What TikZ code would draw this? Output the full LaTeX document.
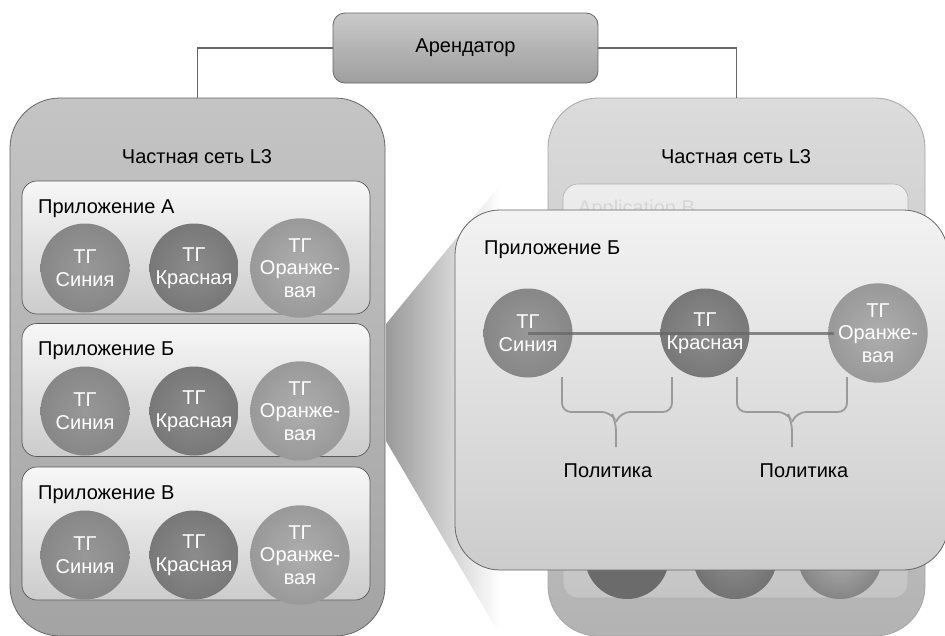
\documentclass[tikz,border=0pt]{standalone}
\usepackage{fontspec}
\setmainfont{Liberation Sans}
\usetikzlibrary{calc}
\definecolor{linegray}{HTML}{666666}
\definecolor{bracegray}{HTML}{9A9A9A}
\definecolor{blueIn}{HTML}{989898}
\definecolor{blueOut}{HTML}{878787}
\definecolor{redIn}{HTML}{8C8C8C}
\definecolor{redOut}{HTML}{787878}
\definecolor{orangeIn}{HTML}{AEAEAE}
\definecolor{orangeOut}{HTML}{999999}
\tikzset{
  every node/.style={font=\fontsize{20}{22.5}\selectfont},
  panel/.style={draw=#1, line width=0.8pt, rounded corners=50pt, inner sep=0pt},
  appbox/.style={draw=gray!70!black, line width=0.7pt, rounded corners=15pt,
    top color=white!97!black, bottom color=white!80!black,
    minimum width=348pt, minimum height=133pt, inner sep=0pt},
  applabel/.style={anchor=west, inner sep=0pt},
  tg/.style={circle, minimum size=89pt, inner sep=0pt, text=white, align=center,
    shading=radial},
  tgblue/.style={tg, inner color=blueIn, outer color=blueOut},
  tgred/.style={tg, inner color=redIn, outer color=redOut},
  tgorange/.style={tg, inner color=orangeIn, outer color=orangeOut},
  link/.style={draw=linegray, line width=1.3pt},
  brace/.style={draw=bracegray, line width=1.8pt, rounded corners=9pt},
}
\begin{document}
\begin{tikzpicture}[x=1pt, y=-1pt]
\useasboundingbox (0,0) rectangle (945,635);
\clip (0,0) rectangle (945,635);

% tenant box
\node[draw=linegray, line width=0.8pt, rounded corners=12pt,
      top color=white!79!black, bottom color=white!62!black,
      minimum width=265pt, minimum height=70pt, inner sep=0pt] (ten) at (465.5,48) {Арендатор};

% the two L3 private networks
\node[panel=gray!80!black, top color=white!77!black, bottom color=white!64!black,
      minimum width=375pt, minimum height=538pt] (lp) at (197.5,367) {};
\node[panel=gray!70, top color=white!86!black, bottom color=white!70!black,
      minimum width=377pt, minimum height=538pt] (rp) at (736.5,367) {};

\draw[link] (ten.west) -| (lp.north);
\draw[link] (ten.east) -| (rp.north);

\node (lpt) at (197,157) {Частная сеть L3};
\node (rpt) at (736,157) {Частная сеть L3};

% applications in the left network
\foreach \n/\y/\t in {a/247.5/Приложение А, b/390/Приложение Б, c/533.5/Приложение В}{
  \node[appbox] (app\n) at (196,\y) {};
  \node[applabel] (lab\n) at (38,\y-39) {\t};
}
\foreach \n/\y in {a/268, b/411, c/555}{
  \node[tgblue]   (\n1) at (85,\y)  {ТГ\\Синия};
  \node[tgred]    (\n2) at (194,\y) {ТГ\\Красная};
  \node[tgorange] (\n3) at (300,\y) {ТГ\\Оранже-\\вая};
}

% application box in the right network, mostly hidden
\node[draw=gray!60, line width=0.6pt, rounded corners=15pt,
      top color=white!93!black, bottom color=white!77!black,
      minimum width=345pt, minimum height=414pt, inner sep=0pt] (rapp) at (735.5,391) {};
\node[applabel, text=white!84!black] (rlab) at (578,209) {Application B};
\node[circle, minimum size=84pt, inner sep=0pt, fill=black!58] (r1) at (627,557) {};
\node[circle, minimum size=84pt, inner sep=0pt, shading=radial, inner color=black!45, outer color=black!55] (r2) at (735,557) {};
\node[circle, minimum size=84pt, inner sep=0pt, shading=radial, inner color=black!32, outer color=black!48] (r3) at (840,557) {};

% magnifying wedge from Application B
\shade[left color=black!40, right color=white] (386,324) -- (500,185) -- (500,635) -- (386,441) -- cycle;

% enlarged view of Application B
\node[draw=linegray, line width=0.8pt, rounded corners=45pt,
      top color=white!95!black, bottom color=white!80!black,
      minimum width=493pt, minimum height=360pt, inner sep=0pt] (pop) at (701.5,390) {};
\node[applabel] (plab) at (484,250) {Приложение Б};

\node[tgblue]   (pb) at (528,333) {ТГ\\Синия};
\node[tgred]    (pr) at (705,333) {ТГ\\Красная};
\node[tgorange] (po) at (878,333) {ТГ\\Оранже-\\вая};
\draw[draw=black!60, opacity=0.75, line width=3pt] (pb.center) -- ($(po.west)+(6,0)$);

% policy braces
\coordinate (b1l) at (562,377); \coordinate (b1r) at (672,377); \coordinate (b1s) at (616,447);
\coordinate (b2l) at (737,377); \coordinate (b2r) at (847,377); \coordinate (b2s) at (792,447);
\foreach \b in {b1,b2}{
  \draw[brace] (\b l) -- (\b l |- 0,412) -- ($(\b s |- 0,412)+(-5,0)$) -- ($(\b s |- 0,412)+(0,10)$) -- (\b s);
  \draw[brace] (\b r) -- (\b r |- 0,412) -- ($(\b s |- 0,412)+(5,0)$) -- ($(\b s |- 0,412)+(0,10)$);
}
\node (pol1) at (608,471) {Политика};
\node (pol2) at (804,471) {Политика};
\end{tikzpicture}
\end{document}
